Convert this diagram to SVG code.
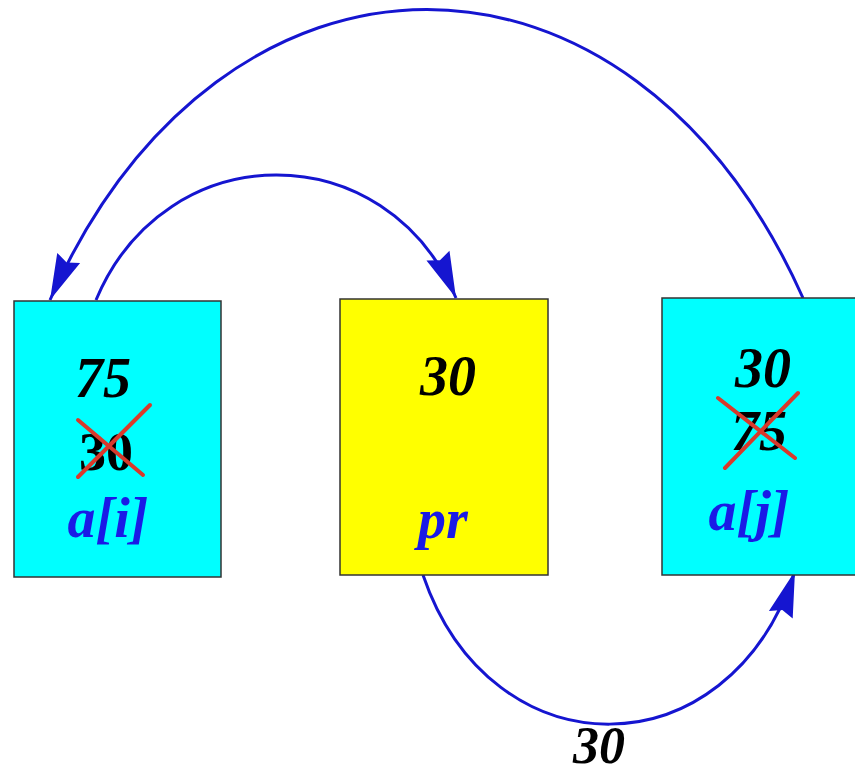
<svg xmlns="http://www.w3.org/2000/svg" width="855" height="776" viewBox="0 0 855 776">
<style>
.box{stroke:#333;stroke-width:1.5}
.cy{fill:#00FFFF}
.ye{fill:#FFFF00}
.num{font-family:"Liberation Serif",serif;font-style:italic;font-weight:bold;font-size:56px;fill:#000;text-anchor:middle}
.old{font-family:"Liberation Serif",serif;font-weight:bold;font-size:54px;fill:#000;text-anchor:middle}
.lbl{font-family:"Liberation Serif",serif;font-style:italic;font-weight:bold;font-size:56px;fill:#1a1ae6;text-anchor:middle}
.x{stroke:#d8392b;stroke-width:4;stroke-linecap:round}
.arc{fill:none;stroke:#1515d0;stroke-width:3;marker-end:url(#ah)}
</style>
<defs>
<marker id="ah" markerUnits="userSpaceOnUse" markerWidth="50" markerHeight="30" refX="0" refY="0" orient="auto" overflow="visible" viewBox="-50 -15 50 30">
<path d="M0,0 L-46,-12.5 L-41,0 L-46,12.5 Z" fill="#1515d0"/>
</marker>
</defs>
<g id="connectors">
<path class="arc" d="M96,300 C166,133.7 386,133.7 456,298"/>
<path class="arc" d="M803,298 C631,-87 222,-87 50,300"/>
<path class="arc" d="M423,575 C491,774.5 729,774.5 795,571"/>
<text class="num" x="599" y="763" style="font-size:52px">30</text>
</g>
<g id="ai">
<rect class="box cy" x="14" y="301" width="207" height="276"/>
<text class="num" x="103" y="397">75</text>
<text class="old" x="106" y="470">30</text>
<line class="x" x1="78" y1="420" x2="143" y2="475"/>
<line class="x" x1="150" y1="405" x2="78" y2="477"/>
<text class="lbl" x="108" y="537">a[i]</text>
</g>
<g id="pr">
<rect class="box ye" x="340" y="299" width="208" height="276"/>
<text class="num" x="448" y="395">30</text>
<text class="lbl" x="443" y="538">pr</text>
</g>
<g id="aj">
<rect class="box cy" x="662" y="298" width="210" height="277"/>
<text class="num" x="763" y="387">30</text>
<text class="num" x="759" y="450">75</text>
<line class="x" x1="718" y1="398" x2="795" y2="458"/>
<line class="x" x1="798" y1="393" x2="725" y2="468"/>
<text class="lbl" x="749" y="530">a[j]</text>
</g>
</svg>
